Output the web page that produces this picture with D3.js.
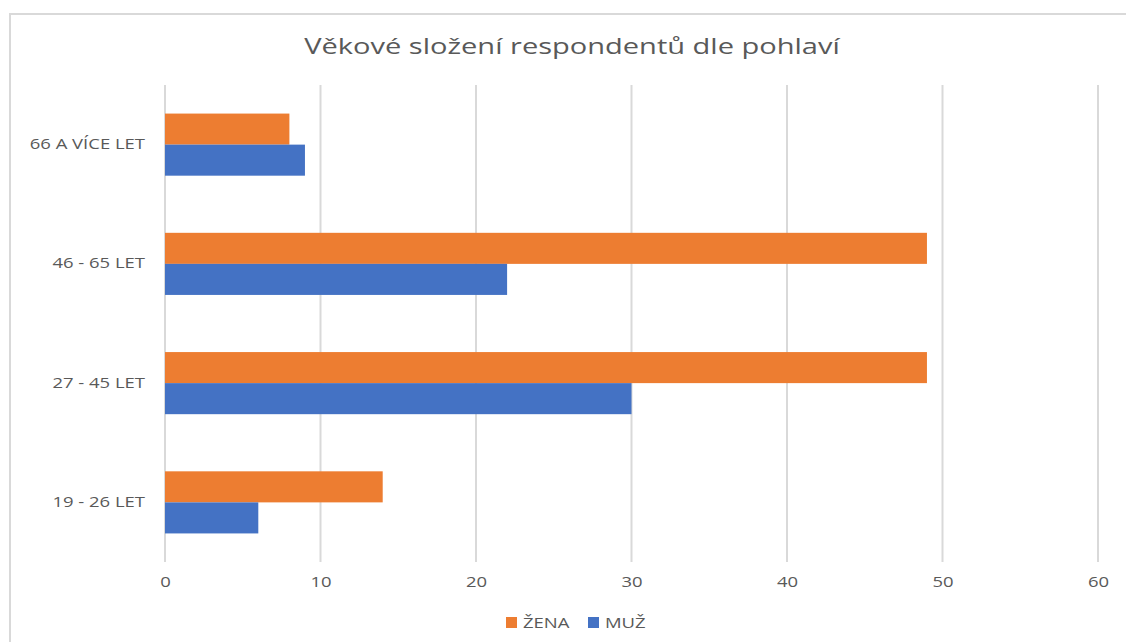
<!DOCTYPE html>
<html>
<head>
<meta charset="utf-8">
<script src="https://d3js.org/d3.v7.min.js"></script>
<style>
  body { margin: 0; background: #fff; }
  svg { display: block; }
  text { font-family: "Open Sans", sans-serif; fill: #595959; }
  .title { font-size: 22px; }
  .axis text { font-size: 14px; }
  .legend text { font-size: 14px; }
</style>
</head>
<body>
<div id="chart"></div>
<script>
var categories = ["19 - 26 LET", "27 - 45 LET", "46 - 65 LET", "66 A VÍCE LET"];
var zena = [14, 49, 49, 8];
var muz = [6, 30, 22, 9];
var seriesNames = ["ŽENA", "MUŽ"];
var xTicks = [0, 10, 20, 30, 40, 50, 60];

var width = 1126, height = 642;
var margin = {top: 85, right: 28, bottom: 80, left: 165};
var stretch = 1.32; // text in the original is drawn wide

var svg = d3.select("#chart").append("svg")
    .attr("width", width)
    .attr("height", height);

// chart frame
svg.append("rect")
    .attr("x", 10).attr("y", 14)
    .attr("width", width + 20).attr("height", height + 20)
    .attr("fill", "none")
    .attr("stroke", "#d9d9d9")
    .attr("stroke-width", 2);

svg.append("g")
    .attr("transform", "translate(572,54)")
    .append("text")
    .attr("class", "title")
    .attr("text-anchor", "middle")
    .attr("transform", "scale(" + stretch + ",1)")
    .text("Věkové složení respondentů dle pohlaví");

var x = d3.scaleLinear()
    .domain([0, 60])
    .range([margin.left, width - margin.right]);

var y = d3.scaleBand()
    .domain(categories.slice().reverse())
    .range([margin.top, height - margin.bottom]);

var inner = d3.scaleBand()
    .domain(seriesNames)
    .range([0, y.bandwidth()])
    .paddingInner(0)
    .paddingOuter(0.92);

var color = d3.scaleOrdinal().domain(seriesNames).range(["#ED7D31", "#4472C4"]);

// gridlines
svg.append("g")
    .selectAll("line")
    .data(xTicks)
    .enter().append("line")
    .attr("x1", function(d) { return x(d); })
    .attr("x2", function(d) { return x(d); })
    .attr("y1", margin.top)
    .attr("y2", height - margin.bottom)
    .attr("stroke", "#d9d9d9")
    .attr("stroke-width", 2);

var rows = categories.map(function(c, i) {
    return {cat: c, values: [{key: "ŽENA", v: zena[i]}, {key: "MUŽ", v: muz[i]}]};
});

var group = svg.selectAll(".cat")
    .data(rows)
    .enter().append("g")
    .attr("class", "cat")
    .attr("transform", function(d) { return "translate(0," + y(d.cat) + ")"; });

group.selectAll("rect")
    .data(function(d) { return d.values; })
    .enter().append("rect")
    .attr("x", x(0))
    .attr("y", function(d) { return inner(d.key); })
    .attr("height", inner.bandwidth())
    .attr("width", function(d) { return x(d.v) - x(0); })
    .attr("fill", function(d) { return color(d.key); });

// x axis labels
var xAxis = d3.axisBottom(x).tickValues(xTicks).tickSize(0).tickPadding(15);
svg.append("g")
    .attr("class", "axis")
    .attr("transform", "translate(0," + (height - margin.bottom) + ")")
    .call(xAxis)
    .call(function(g) { g.select(".domain").remove(); })
    .call(function(g) { g.selectAll(".tick text").attr("transform", "scale(" + stretch + ",1)"); });

// y axis labels
var yAxis = d3.axisLeft(y).tickSize(0).tickPadding(20);
svg.append("g")
    .attr("class", "axis")
    .attr("transform", "translate(" + margin.left + ",0)")
    .call(yAxis)
    .call(function(g) { g.select(".domain").remove(); })
    .call(function(g) {
        g.selectAll(".tick text")
            .attr("x", -20 / stretch)
            .attr("transform", "scale(" + stretch + ",1)");
    });

svg.selectAll(".axis text").attr("fill", "#595959").style("font-family", "'Open Sans', sans-serif");

// legend
var legendX = [506, 588];
var legend = svg.append("g").attr("class", "legend")
    .selectAll("g")
    .data(seriesNames)
    .enter().append("g")
    .attr("transform", function(d, i) { return "translate(" + legendX[i] + ",617)"; });

legend.append("rect")
    .attr("width", 11).attr("height", 11)
    .attr("fill", function(d) { return color(d); });

legend.append("text")
    .attr("x", 17 / stretch)
    .attr("y", 11)
    .attr("transform", "scale(" + stretch + ",1)")
    .text(function(d) { return d; });
</script>
</body>
</html>
